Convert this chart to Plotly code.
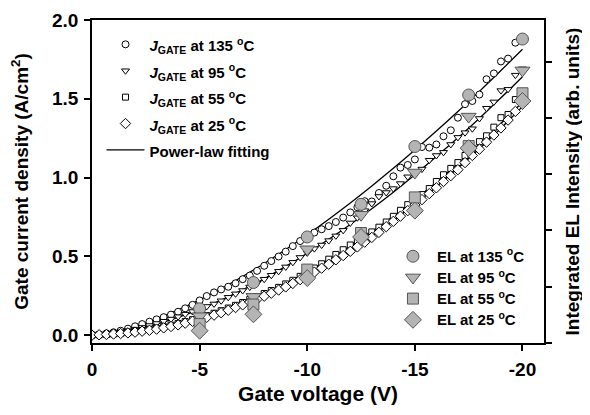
import plotly.graph_objects as go

# ---------------- data ----------------
V = [0, -0.33, -0.67, -1.0, -1.33, -1.67, -2.0, -2.33, -2.67, -3.0, -3.33, -3.67, -4.0, -4.33, -4.67,
     -5.0, -5.33, -5.67, -6.0, -6.33, -6.67, -7.0, -7.33, -7.67, -8.0, -8.33, -8.67, -9.0, -9.33, -9.67,
     -10.0, -10.33, -10.67, -11.0, -11.33, -11.67, -12.0, -12.33, -12.67, -13.0, -13.33, -13.67, -14.0,
     -14.33, -14.67, -15.0, -15.33, -15.67, -16.0, -16.33, -16.67, -17.0, -17.33, -17.67, -18.0, -18.33,
     -18.67, -19.0, -19.33, -19.67, -20.0]

J135 = [0.000, 0.005, 0.011, 0.018, 0.028, 0.041, 0.056, 0.070, 0.085, 0.100, 0.114, 0.130, 0.148, 0.170,
        0.192, 0.220, 0.248, 0.271, 0.290, 0.307, 0.329, 0.355, 0.378, 0.408, 0.440, 0.470, 0.499, 0.530,
        0.565, 0.597, 0.625, 0.651, 0.672, 0.692, 0.718, 0.746, 0.779, 0.812, 0.850, 0.848, 0.902, 0.948,
        1.008, 1.063, 1.080, 1.115, 1.194, 1.190, 1.210, 1.262, 1.300, 1.380, 1.466, 1.486, 1.527, 1.624,
        1.661, 1.737, 1.755, 1.856, 1.890]
J95 = [0.000, 0.003, 0.007, 0.013, 0.020, 0.029, 0.038, 0.049, 0.061, 0.074, 0.088, 0.102, 0.117, 0.133,
       0.150, 0.166, 0.182, 0.198, 0.218, 0.240, 0.262, 0.283, 0.305, 0.330, 0.355, 0.380, 0.405, 0.433,
       0.462, 0.493, 0.522, 0.549, 0.572, 0.600, 0.630, 0.665, 0.712, 0.745, 0.790, 0.835, 0.880, 0.905,
       0.930, 0.962, 1.005, 1.028, 1.054, 1.110, 1.140, 1.160, 1.210, 1.255, 1.285, 1.310, 1.375, 1.440,
       1.480, 1.552, 1.560, 1.650, 1.690]
J55 = [0.000, 0.002, 0.004, 0.007, 0.011, 0.016, 0.022, 0.029, 0.036, 0.044, 0.053, 0.063, 0.074, 0.086,
       0.098, 0.111, 0.124, 0.139, 0.155, 0.172, 0.189, 0.207, 0.226, 0.245, 0.264, 0.283, 0.303, 0.325,
       0.348, 0.373, 0.400, 0.426, 0.453, 0.482, 0.512, 0.542, 0.572, 0.600, 0.628, 0.655, 0.685, 0.718,
       0.754, 0.792, 0.828, 0.862, 0.892, 0.930, 0.975, 1.018, 1.058, 1.095, 1.140, 1.185, 1.228, 1.265,
       1.320, 1.380, 1.400, 1.495, 1.520]
J25 = [0.000, 0.002, 0.004, 0.007, 0.010, 0.014, 0.019, 0.025, 0.031, 0.038, 0.046, 0.055, 0.065, 0.076,
       0.088, 0.100, 0.113, 0.127, 0.142, 0.158, 0.175, 0.192, 0.210, 0.228, 0.247, 0.266, 0.286, 0.306,
       0.328, 0.352, 0.378, 0.400, 0.425, 0.450, 0.478, 0.505, 0.532, 0.560, 0.590, 0.620, 0.652, 0.688,
       0.722, 0.755, 0.790, 0.825, 0.860, 0.898, 0.935, 0.975, 1.012, 1.050, 1.095, 1.140, 1.180, 1.225,
       1.270, 1.315, 1.365, 1.420, 1.465]

# power-law fitting curves, read at integer voltages
V_fit = [0, -1, -2, -3, -4, -5, -6, -7, -8, -9, -10, -11, -12, -13, -14, -15, -16, -17, -18, -19, -20]
fit135 = [0.0, 0.020, 0.056, 0.103, 0.160, 0.224, 0.295, 0.372, 0.455, 0.543, 0.637, 0.736, 0.839,
          0.947, 1.059, 1.175, 1.295, 1.419, 1.547, 1.679, 1.814]
fit95 = [0.0, 0.011, 0.036, 0.070, 0.113, 0.164, 0.222, 0.287, 0.358, 0.436, 0.519, 0.608, 0.702,
         0.802, 0.907, 1.018, 1.133, 1.252, 1.377, 1.506, 1.640]
fit55 = [0.0, 0.005, 0.019, 0.041, 0.071, 0.108, 0.152, 0.204, 0.262, 0.328, 0.400, 0.479, 0.564,
         0.656, 0.755, 0.860, 0.971, 1.089, 1.213, 1.343, 1.480]
fit25 = [0.0, 0.004, 0.017, 0.037, 0.065, 0.100, 0.142, 0.191, 0.247, 0.310, 0.380, 0.457, 0.540,
         0.631, 0.728, 0.832, 0.942, 1.059, 1.183, 1.313, 1.450]

# integrated EL intensity (plotted in the same frame)
V_EL = [-5, -7.5, -10, -12.5, -15, -17.5, -20]
EL135 = [0.167, 0.334, 0.623, 0.830, 1.197, 1.524, 1.879]
EL95 = [0.120, 0.243, 0.545, 0.764, 1.032, 1.387, 1.680]
EL55 = [0.070, 0.194, 0.416, 0.648, 0.874, 1.200, 1.535]
EL25 = [0.028, 0.132, 0.362, 0.623, 0.790, 1.187, 1.486]

x_tickvals = [0, -5, -10, -15, -20]
x_ticktext = ["0", "-5", "-10", "-15", "-20"]
y_tickvals = [0.0, 0.5, 1.0, 1.5, 2.0]
y_ticktext = ["0.0", "0.5", "1.0", "1.5", "2.0"]

temps = ["135", "95", "55", "25"]
J_series = [J135, J95, J55, J25]
fit_series = [fit135, fit95, fit55, fit25]
EL_series = [EL135, EL95, EL55, EL25]
symbols = ["circle", "triangle-down", "square", "diamond"]
small_sizes = [7, 7, 6, 8]
big_sizes = [12, 13, 11, 13]

FONT = "Liberation Sans, Arial, Helvetica, sans-serif"


def leg(text):
    return '<span style="font-size:15px"><b>%s</b></span>' % text


fig = go.Figure()

# fit lines (drawn first, under markers)
for i, f in enumerate(fit_series):
    fig.add_trace(go.Scatter(
        x=V_fit, y=f, mode="lines", line=dict(color="black", width=1.3, shape="spline"),
        name=leg("Power-law fitting"), showlegend=(i == 0), legend="legend", legendrank=10,
        hoverinfo="skip"))

# J_GATE data
for i, (t, J) in enumerate(zip(temps, J_series)):
    fig.add_trace(go.Scatter(
        x=V, y=J, mode="markers",
        marker=dict(symbol=symbols[i], size=small_sizes[i], color="white",
                    line=dict(color="black", width=1)),
        name=leg("<i>J</i><sub>GATE</sub> at %s <sup>o</sup>C" % t),
        legend="legend", legendrank=i + 1))

# EL data
for i, (t, E) in enumerate(zip(temps, EL_series)):
    fig.add_trace(go.Scatter(
        x=V_EL, y=E, mode="markers",
        marker=dict(symbol=symbols[i], size=big_sizes[i], color="#b4b4b4",
                    line=dict(color="#555555", width=1)),
        name=leg("EL at %s <sup>o</sup>C" % t),
        legend="legend2", legendrank=i + 1))

# dummy trace to activate the right-hand axis
fig.add_trace(go.Scatter(x=[0], y=[0], yaxis="y2", mode="markers",
                         marker=dict(opacity=0), showlegend=False, hoverinfo="skip"))

axis_common = dict(showline=True, linecolor="black", linewidth=1.5, ticks="outside",
                   ticklen=6, tickwidth=1.5, tickcolor="black", showgrid=False, zeroline=False,
                   automargin=False)

# the page body adds an 8px offset, so the figure is 8px smaller than the window
fig.update_layout(
    width=582, height=407,
    margin=dict(l=84, r=46, t=12, b=72),
    paper_bgcolor="white", plot_bgcolor="white",
    font=dict(family=FONT, color="black", size=15),
    xaxis=dict(range=[0, -21], tickvals=x_tickvals, ticktext=x_ticktext,
               tickfont=dict(size=19, family=FONT, weight="bold"),
               title=dict(text="<b>Gate voltage (V)</b>", font=dict(size=21), standoff=8),
               mirror=True, ticklabelstandoff=2, **axis_common),
    yaxis=dict(range=[-0.05, 2.0], tickvals=y_tickvals, ticktext=y_ticktext,
               tickfont=dict(size=19, family=FONT, weight="bold"),
               title=dict(text="<b>Gate current density (A/cm<sup>2</sup>)</b>", font=dict(size=19),
                          standoff=18),
               ticklabelstandoff=2, **axis_common),
    yaxis2=dict(overlaying="y", side="right", range=[0, 5.74], dtick=1, tick0=0,
                showticklabels=False,
                title=dict(text="<b>Integrated EL Intensity (arb. units)</b>", font=dict(size=19),
                           standoff=15),
                **axis_common),
    legend=dict(x=0.021, y=0.981, xanchor="left", yanchor="top", bgcolor="rgba(0,0,0,0)",
                font=dict(size=18, family=FONT), traceorder="normal", itemsizing="trace",
                itemwidth=38),
    legend2=dict(x=0.657, y=0.317, xanchor="left", yanchor="top", bgcolor="rgba(0,0,0,0)",
                 font=dict(size=14, family=FONT), traceorder="normal", itemsizing="trace",
                 itemwidth=38),
)

fig.write_html("out.html")
